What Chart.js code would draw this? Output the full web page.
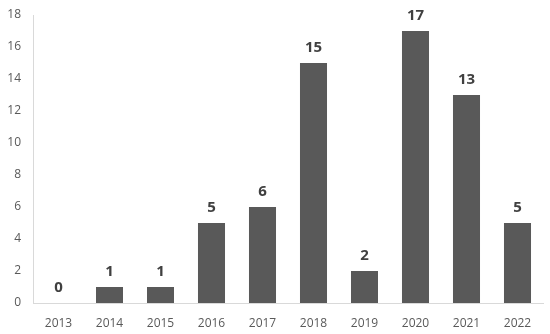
<!DOCTYPE html>
<html>
<head>
<meta charset="utf-8">
<script src="https://cdn.jsdelivr.net/npm/chart.js@4.4.1/dist/chart.umd.min.js"></script>
<style>
  html, body { margin: 0; padding: 0; background: #fff; }
  #wrap { width: 550px; height: 334px; position: relative; }
</style>
</head>
<body>
<div id="wrap"><canvas id="chart-bar"></canvas></div>
<script>
var years = ['2013', '2014', '2015', '2016', '2017', '2018', '2019', '2020', '2021', '2022'];
var counts = [0, 1, 1, 5, 6, 15, 2, 17, 13, 5];
var yTicks = [0, 2, 4, 6, 8, 10, 12, 14, 16, 18];

// draws the bold number over each bar
var valueLabels = {
    id: 'valueLabels',
    afterDatasetsDraw: function (chart) {
        var ctx = chart.ctx;
        var meta = chart.getDatasetMeta(0);
        ctx.save();
        ctx.font = 'bold 15px "Open Sans", sans-serif';
        ctx.fillStyle = '#404040';
        ctx.textAlign = 'center';
        ctx.textBaseline = 'middle';
        meta.data.forEach(function (bar, i) {
            ctx.fillText(String(chart.data.datasets[0].data[i]), bar.x, bar.y - 15);
        });
        ctx.restore();
    }
};

var ctx1 = document.getElementById('chart-bar').getContext('2d');
new Chart(ctx1, {
    type: 'bar',
    data: {
        labels: years,
        datasets: [{
            data: counts,
            backgroundColor: '#595959',
            borderWidth: 0,
            categoryPercentage: 1,
            barPercentage: 0.53
        }]
    },
    options: {
        responsive: true,
        maintainAspectRatio: false,
        animation: false,
        layout: { padding: { top: 15, right: 7, left: 0, bottom: 0 } },
        plugins: {
            legend: { display: false },
            tooltip: { enabled: false }
        },
        scales: {
            y: {
                min: 0,
                max: 18,
                afterFit: function (scale) {
                    scale.width = 33;
                    scale.paddingTop = 0;
                    scale.paddingBottom = 0;
                },
                afterBuildTicks: function (scale) {
                    scale.ticks = yTicks.map(function (v) { return { value: v }; });
                },
                grid: { display: false, drawTicks: false },
                border: { display: true, color: '#d9d9d9', width: 1 },
                ticks: {
                    padding: 12,
                    color: '#595959',
                    font: { size: 12, family: '"Open Sans", sans-serif' }
                }
            },
            x: {
                afterFit: function (scale) { scale.height = 31; },
                grid: { display: false, drawTicks: false },
                border: { display: true, color: '#d9d9d9', width: 1 },
                ticks: {
                    padding: 13,
                    color: '#595959',
                    maxRotation: 0,
                    font: { size: 12, family: '"Open Sans", sans-serif' }
                }
            }
        }
    },
    plugins: [valueLabels]
});
</script>
</body>
</html>
